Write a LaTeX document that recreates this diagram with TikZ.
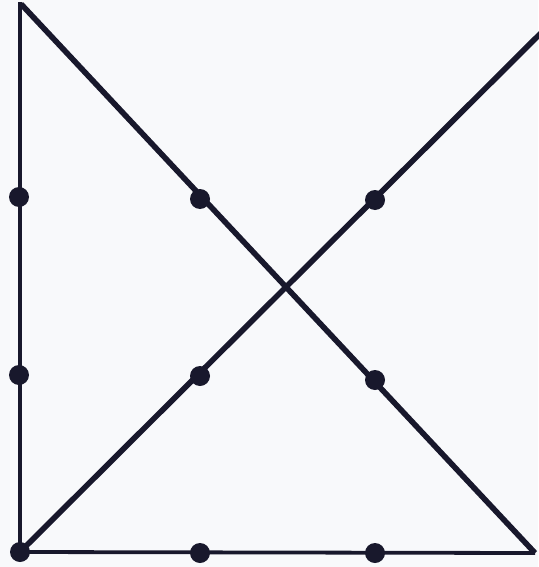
\documentclass[tikz,border=0pt]{standalone}
\usetikzlibrary{positioning}
\definecolor{inkblue}{RGB}{24,24,44}
\definecolor{paper}{RGB}{248,249,251}
\tikzset{
  dot/.style={circle,fill=inkblue,inner sep=0pt,minimum size=20pt},
  thinline/.style={draw=inkblue,line width=3.8pt},
  thickline/.style={draw=inkblue,line width=5.6pt},
}
\begin{document}
\begin{tikzpicture}[x=1pt,y=-1pt]
\fill[paper] (0,0) rectangle (538,567);
\useasboundingbox (0,0) rectangle (538,567);
% corners of the path
\coordinate (topleft) at (20,4);
\coordinate (topright) at (548,26);
\coordinate (botright) at (535,553);
% the nine dots
\node[dot] (d11) at (19,197) {};
\node[dot] (d12) at (200,199) {};
\node[dot] (d13) at (375,200) {};
\node[dot] (d21) at (19,375) {};
\node[dot] (d22) at (200,376) {};
\node[dot] (d23) at (375,380) {};
\node[dot] (d31) at (20,552) {};
\node[dot] (d32) at (200,553) {};
\node[dot] (d33) at (375,553) {};
% four strokes
\draw[thinline,line cap=rect] (topleft) -- (d31.center);
\draw[thinline] (d31.center) -- (botright);
\draw[thickline] (botright) -- ([xshift=1pt]topleft);
\draw[thickline] (d31.center) -- (topright);
\end{tikzpicture}
\end{document}
